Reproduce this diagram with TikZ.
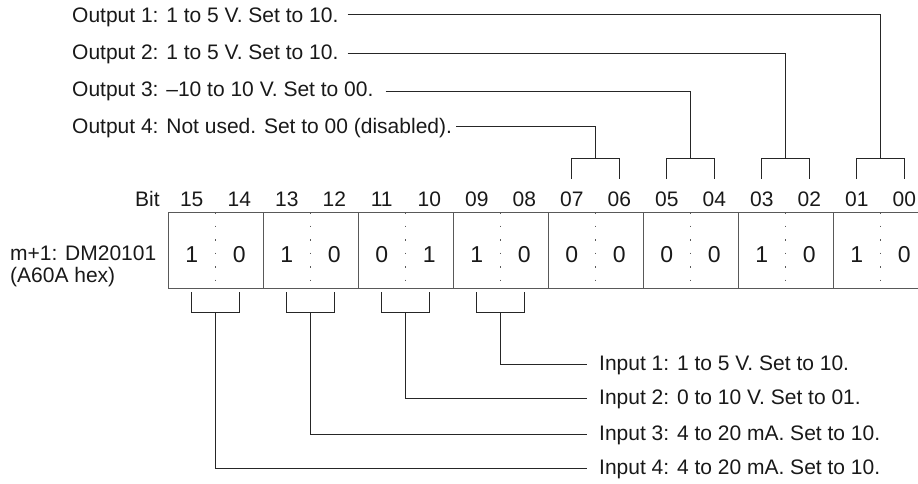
\documentclass[tikz,border=0pt]{standalone}
\usepackage{fontspec}
\setmainfont{Liberation Sans}
\usetikzlibrary{positioning}
\begin{document}
\begin{tikzpicture}[x=1pt,y=-1pt,
    txt/.style={font=\fontsize{21}{22}\selectfont, text=black!90, inner sep=0pt, anchor=west},
    bitlbl/.style={font=\fontsize{21}{22}\selectfont, text=black!90, inner sep=0pt},
    digit/.style={font=\fontsize{23}{25}\selectfont, text=black!90, inner sep=0pt},
    wire/.style={black!85, line width=0.8pt},
    frame/.style={black!65, line width=0.9pt}]
    % Define dimensions
    \def\cellw{95}
    \def\boxleft{168}
    \def\boxtop{212}
    \def\boxbot{288}
    \clip (0,0) rectangle (918,483);
    % Register box
    \draw[frame] (\boxleft,\boxtop) -- (940,\boxtop);
    \draw[frame] (\boxleft,\boxbot) -- (940,\boxbot);
    \foreach \g in {0,...,8}
        \draw[frame] (\boxleft+\g*\cellw,\boxtop) -- (\boxleft+\g*\cellw,\boxbot);
    % Dotted middle lines
    \foreach \g in {0,...,7}
        \draw[frame, dash pattern=on 1.5pt off 12pt]
            (\boxleft+\g*\cellw+\cellw/2,\boxtop) -- (\boxleft+\g*\cellw+\cellw/2,\boxbot);
    % Bit numbers and values
    \foreach \b/\d [count=\i from 0] in {15/1,14/0,13/1,12/0,11/0,10/1,09/1,08/0,07/0,06/0,05/0,04/0,03/1,02/0,01/1,00/0} {
        \node[bitlbl] (b\b) at (\boxleft+\i*\cellw/2+\cellw/4,199) {\b};
        \node[digit] (d\b) at (\boxleft+\i*\cellw/2+\cellw/4,255) {\d};
    }
    \node[bitlbl, left=20pt of b15] (bitword) {Bit};
    \node[txt, align=left] (reg) at (10,266) {m+1: DM20101\\(A60A hex)};
    % Output texts
    \node[txt] (out1) at (72,17) {Output 1: 1 to 5 V. Set to 10.};
    \node[txt] (out2) at (72,54) {Output 2: 1 to 5 V. Set to 10.};
    \node[txt] (out3) at (72,91) {Output 3: --10 to 10 V. Set to 00.};
    \node[txt] (out4) at (72,128) {Output 4: Not used. Set to 00 (disabled).};
    % Input texts
    \node[txt] (in1) at (599,365) {Input 1: 1 to 5 V. Set to 10.};
    \node[txt] (in2) at (599,399) {Input 2: 0 to 10 V. Set to 01.};
    \node[txt] (in3) at (599,435) {Input 3: 4 to 20 mA. Set to 10.};
    \node[txt] (in4) at (599,469) {Input 4: 4 to 20 mA. Set to 10.};
    % Brackets above the output bits
    \foreach \g in {4,...,7} {
        \draw[wire] (\boxleft+\g*\cellw+\cellw/4,179) |- (\boxleft+\g*\cellw+3*\cellw/4,158) -- ++(0,21);
        \coordinate (top\g) at (\boxleft+\g*\cellw+\cellw/2,158);
    }
    % Brackets below the input bits
    \foreach \g in {0,...,3} {
        \draw[wire] (\boxleft+\g*\cellw+\cellw/4,292) |- (\boxleft+\g*\cellw+3*\cellw/4,312) -- ++(0,-20);
        \coordinate (bot\g) at (\boxleft+\g*\cellw+\cellw/2,312);
    }
    % Leaders
    \draw[wire] ([xshift=9pt,yshift=3pt]out1.east) -| (top7);
    \draw[wire] ([xshift=9pt,yshift=1pt]out2.east) -| (top6);
    \draw[wire] ([xshift=12pt]out3.east) -| (top5);
    \draw[wire] ([xshift=4pt,yshift=2pt]out4.east) -| (top4);
    \draw[wire] (bot3) |- ([xshift=-12pt,yshift=1pt]in1.west);
    \draw[wire] (bot2) |- ([xshift=-12pt,yshift=1pt]in2.west);
    \draw[wire] (bot1) |- ([xshift=-12pt,yshift=1pt]in3.west);
    \draw[wire] (bot0) |- ([xshift=-12pt,yshift=1pt]in4.west);
\end{tikzpicture}
\end{document}
